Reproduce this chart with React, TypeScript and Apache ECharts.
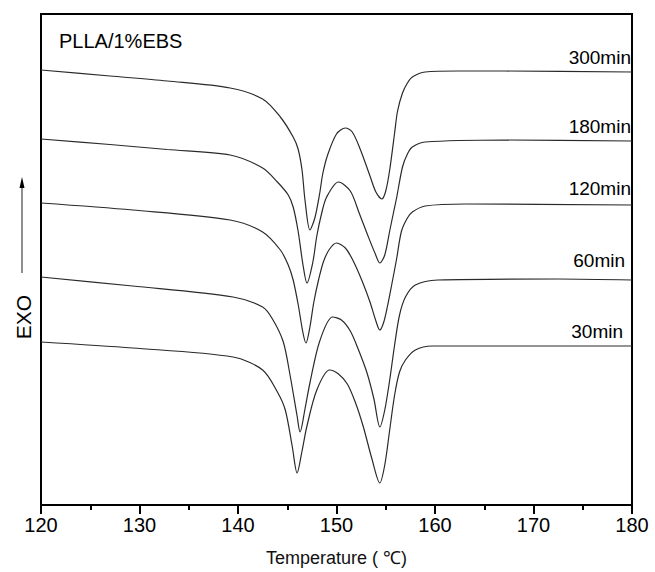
import React, { useEffect, useRef } from "react";
import * as echarts from "echarts";

// Temperature (°C) / heat flow (arbitrary units, exo up)
const curve300: [number, number][] = [
  [120.0, 43.5], [127.0, 42.9], [132.8, 42.4], [139.2, 41.7], [142.5, 40.6], [144.3, 38.8],
  [145.6, 36.8], [146.1, 35.6], [146.5, 33.5], [146.8, 30.5], [147.3, 27.5], [147.8, 28.7],
  [148.3, 31.2], [148.6, 33.1], [149.1, 35.0], [150.0, 37.1], [150.9, 37.7], [151.6, 37.3],
  [152.4, 35.6], [153.4, 32.9], [154.0, 31.3], [154.6, 30.6], [155.0, 31.4], [155.4, 33.5],
  [155.9, 37.2], [156.2, 39.4], [156.7, 41.2], [157.2, 42.2], [157.7, 42.8], [159.0, 43.3],
  [162.3, 43.4], [167.1, 43.4], [180.0, 43.3],
];
const curve180: [number, number][] = [
  [120.0, 36.6], [127.0, 36.05], [132.8, 35.55], [139.2, 35.0], [142.5, 33.7], [144.0, 32.3],
  [145.1, 31.0], [145.6, 29.8], [146.1, 27.4], [146.6, 24.0], [147.0, 22.2], [147.6, 24.3],
  [148.0, 26.9], [148.5, 29.2], [149.0, 30.8], [150.2, 32.3], [151.4, 31.4], [152.3, 29.2],
  [153.2, 26.9], [153.9, 25.2], [154.4, 24.2], [154.9, 25.0], [155.4, 27.4], [155.8, 29.3],
  [156.1, 30.7], [156.7, 33.8], [157.2, 35.1], [157.7, 35.8], [159.0, 36.3], [167.1, 36.5],
  [180.0, 36.4],
];
const curve120: [number, number][] = [
  [120.0, 30.2], [129.3, 29.5], [139.2, 28.5], [142.5, 27.3], [144.3, 25.5], [145.1, 24.0],
  [145.6, 22.5], [146.1, 20.1], [146.6, 17.2], [146.9, 16.2], [147.3, 17.8], [147.7, 20.3],
  [148.2, 22.6], [148.7, 24.4], [149.3, 25.6], [150.0, 26.2], [150.9, 25.7], [151.7, 24.4],
  [152.6, 22.4], [153.4, 20.3], [154.0, 18.4], [154.4, 17.5], [154.8, 18.3], [155.2, 20.0],
  [155.6, 22.0], [156.1, 24.6], [156.6, 27.4], [157.2, 28.7], [157.7, 29.3], [159.0, 29.9],
  [163.1, 30.1], [180.0, 30.0],
];
const curve60: [number, number][] = [
  [120.0, 22.8], [129.3, 21.9], [139.5, 20.8], [142.5, 19.8], [143.5, 18.6], [144.6, 16.3],
  [145.3, 12.9], [146.0, 8.9], [146.3, 7.3], [146.8, 9.6], [147.3, 12.2], [148.3, 16.4],
  [149.6, 18.8], [150.5, 18.5], [151.4, 17.4], [152.2, 15.6], [153.1, 13.2], [153.8, 10.6],
  [154.4, 7.8], [154.9, 9.5], [155.4, 12.5], [155.9, 16.0], [156.4, 19.0], [157.0, 20.8],
  [158.0, 22.0], [160.3, 22.5], [172.5, 22.6], [180.0, 22.5],
];
const curve30: [number, number][] = [
  [120.0, 16.3], [129.3, 15.7], [139.5, 14.8], [142.5, 13.5], [144.0, 11.3], [144.8, 9.5],
  [145.5, 5.9], [146.0, 3.2], [146.5, 5.4], [147.0, 7.9], [148.0, 11.5], [149.3, 13.5],
  [150.2, 13.1], [151.1, 12.1], [151.9, 10.3], [152.7, 7.9], [153.6, 4.6], [154.4, 2.2],
  [154.9, 4.0], [155.4, 7.5], [155.9, 11.0], [156.4, 13.3], [157.0, 14.5], [158.0, 15.5],
  [159.7, 15.9], [180.0, 15.9],
];

const seriesNames = ["300min", "180min", "120min", "60min", "30min"];
const seriesData = [curve300, curve180, curve120, curve60, curve30];
const xTicks = [120, 130, 140, 150, 160, 170, 180];

const FONT = "Liberation Sans, Arial, sans-serif";

export default function App() {
  const ref = useRef<HTMLDivElement>(null);
  useEffect(() => {
    if (!ref.current) return;
    const chart = echarts.init(ref.current, null, { renderer: "svg" });
    const labelPos = [
      { x: 631, y: 57 },
      { x: 631, y: 126 },
      { x: 631, y: 188 },
      { x: 625, y: 260 },
      { x: 623, y: 331 },
    ];
    chart.setOption({
      animation: false,
      backgroundColor: "#fff",
      grid: {
        left: 41,
        right: 23,
        top: 14,
        bottom: 67,
        show: true,
        borderColor: "#000",
        borderWidth: 2,
        backgroundColor: "transparent",
      },
      xAxis: {
        type: "value",
        min: xTicks[0],
        max: xTicks[xTicks.length - 1],
        interval: 10,
        name: "Temperature ( ℃)",
        nameLocation: "middle",
        nameGap: 44,
        nameTextStyle: { fontFamily: FONT, fontSize: 18, color: "#111" },
        axisLine: { show: true, lineStyle: { color: "#000", width: 2 } },
        axisTick: { show: true, inside: false, length: 9, lineStyle: { color: "#000", width: 2 } },
        minorTick: { show: true, splitNumber: 2, length: 5, lineStyle: { color: "#000", width: 2 } },
        axisLabel: { fontFamily: FONT, fontSize: 20, color: "#000", margin: 10 },
        splitLine: { show: false },
      },
      yAxis: {
        type: "value",
        min: 0,
        max: 49.1,
        axisLine: { show: true, lineStyle: { color: "#000", width: 2 } },
        axisTick: { show: false },
        axisLabel: { show: false },
        splitLine: { show: false },
      },
      series: seriesData.map((d, i) => ({
        name: seriesNames[i],
        type: "line",
        data: d,
        smooth: 0.3,
        showSymbol: false,
        lineStyle: { color: "#2a2a2a", width: 1.2 },
      })),
      graphic: [
        {
          type: "text",
          x: 59,
          y: 41,
          style: {
            text: "PLLA/1%EBS",
            fontFamily: FONT,
            fontSize: 20,
            fill: "#000",
            verticalAlign: "middle",
          },
        },
        ...labelPos.map((p, i) => ({
          type: "text",
          x: p.x,
          y: p.y,
          style: {
            text: seriesNames[i],
            fontFamily: FONT,
            fontSize: 19,
            fill: "#000",
            align: "right",
            verticalAlign: "middle",
          },
        })),
        {
          type: "text",
          x: 23,
          y: 317,
          rotation: Math.PI / 2,
          style: {
            text: "EXO",
            fontFamily: FONT,
            fontSize: 21,
            fill: "#000",
            align: "center",
            verticalAlign: "middle",
          },
        },
        {
          type: "line",
          shape: { x1: 22, y1: 273, x2: 22, y2: 186 },
          style: { stroke: "#444", lineWidth: 1.2 },
        },
        {
          type: "polygon",
          shape: { points: [[22, 177], [19.5, 188], [24.5, 188]] },
          style: { fill: "#000" },
        },
      ],
    });
    return () => chart.dispose();
  }, []);
  return (
    <div
      ref={ref}
      style={{ position: "fixed", left: 0, top: 0, width: 655, height: 572 }}
    />
  );
}
